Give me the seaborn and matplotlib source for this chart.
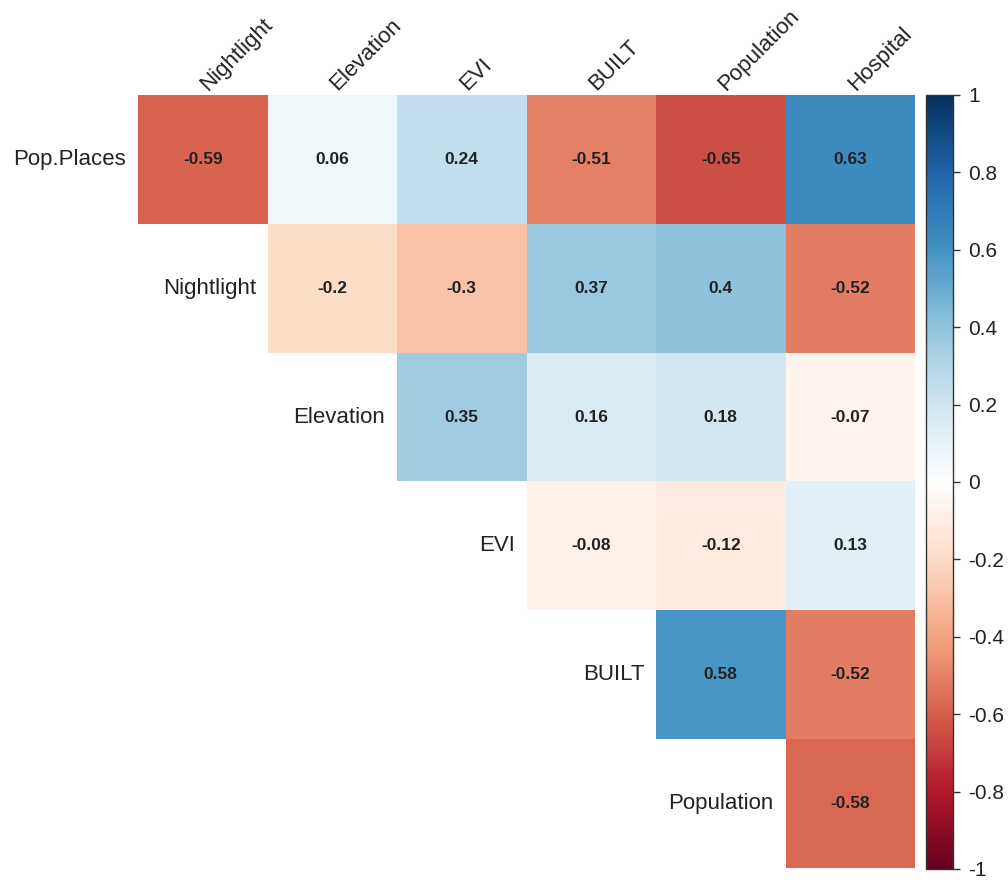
import numpy as np
import pandas as pd
import matplotlib
matplotlib.use("Agg")
import matplotlib.pyplot as plt
import seaborn as sns
from matplotlib.colors import LinearSegmentedColormap

# Variables (rows / columns of the upper-triangle correlation plot)
row_labels = ["Pop.Places", "Nightlight", "Elevation", "EVI", "BUILT", "Population"]
col_labels = ["Nightlight", "Elevation", "EVI", "BUILT", "Population", "Hospital"]

# Correlations per row, starting at the diagonal column
r_popplaces = [-0.59, 0.06, 0.24, -0.51, -0.65, 0.63]
r_nightlight = [-0.2, -0.3, 0.37, 0.4, -0.52]
r_elevation = [0.35, 0.16, 0.18, -0.07]
r_evi = [-0.08, -0.12, 0.13]
r_built = [0.58, -0.52]
r_population = [-0.58]

cbar_ticks = [-1, -0.8, -0.6, -0.4, -0.2, 0, 0.2, 0.4, 0.6, 0.8, 1]

rows = [r_popplaces, r_nightlight, r_elevation, r_evi, r_built, r_population]
n = len(col_labels)
mat = np.full((len(row_labels), n), np.nan)
for i, vals in enumerate(rows):
    mat[i, n - len(vals):] = vals
df = pd.DataFrame(mat, index=row_labels, columns=col_labels)
annot = df.apply(lambda c: c.map(lambda v: "" if np.isnan(v) else f"{v:g}"))

# corrplot-like RdBu ramp
cmap = LinearSegmentedColormap.from_list("corr_rdbu", [
    "#67001F", "#B2182B", "#D6604D", "#F4A582", "#FDDBC7", "#FFFFFF",
    "#D1E5F0", "#92C5DE", "#4393C3", "#2166AC", "#053061"], N=200)

sns.set_style("white")
plt.rcParams["font.family"] = ["Liberation Sans", "DejaVu Sans"]
txt = "#222222"

W, H = 1008, 884
fig = plt.figure(figsize=(W / 100, H / 100), dpi=100)
ax = fig.add_axes([138 / W, 1 - 868 / H, 777 / W, 773 / H])
cax = fig.add_axes([926 / W, 1 - 869 / H, 27 / W, 774 / H])

sns.heatmap(df, mask=df.isna(), cmap=cmap, vmin=-1, vmax=1, annot=annot, fmt="",
            annot_kws={"color": txt, "fontsize": 12.5, "fontweight": "bold"},
            xticklabels=False, yticklabels=False, linewidths=0,
            cbar_ax=cax, ax=ax)

# row labels to the left of each row's first cell
for i, lab in enumerate(row_labels):
    ax.text(i - 0.09, i + 0.5, lab, ha="right", va="center", fontsize=16, color=txt)

# rotated column labels above the grid
for j, lab in enumerate(col_labels):
    ax.text(j + 0.54, -0.03, lab, ha="left", va="baseline", rotation=45,
            rotation_mode="anchor", fontsize=16, color=txt)

ax.set_xlabel("")
ax.set_ylabel("")

cax.set_yticks(cbar_ticks)
cax.set_yticklabels([f"{t:g}" for t in cbar_ticks], fontsize=15, color=txt)
cax.tick_params(axis="y", right=True, length=5, width=1, color="#333333", pad=6)
cbar = ax.collections[0].colorbar
cbar.outline.set_edgecolor("#333333")
cbar.outline.set_linewidth(1)

fig.savefig("out.png", dpi=100, facecolor="white")
plt.close(fig)
